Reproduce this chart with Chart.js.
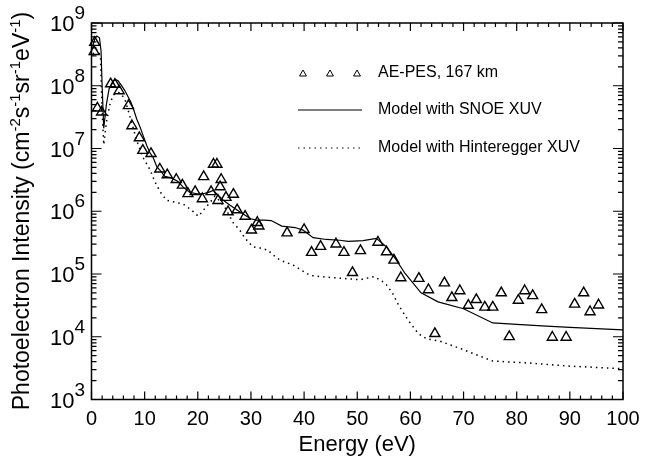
<!DOCTYPE html>
<html>
<head>
<meta charset="utf-8">
<script src="https://cdn.jsdelivr.net/npm/chart.js@4.4.1/dist/chart.umd.min.js"></script>
<style>
  html, body { margin: 0; padding: 0; background: #fff; }
</style>
</head>
<body>
<canvas id="chart" width="651" height="459"></canvas>
<script>
const FONT = '"Liberation Sans", Arial, Helvetica, sans-serif';

// AE-PES measurements (energy in eV, intensity)
const obsEnergy = [0.6, 0.5, 1.1, 1.9, 3.6, 4.4, 5.2, 6.95, 7.6, 9.0, 9.65, 11.2, 12.85, 14.25, 15.95, 17.1,
  18.15, 19.5, 20.85, 21.1, 22.95, 23.6, 22.5, 24.4, 24.2, 23.8, 25.3, 26.7, 25.7, 27.4, 28.9, 31.2, 31.5,
  30.1, 36.8, 40.0, 41.4, 43.1, 46.0, 47.5, 49.1, 50.6, 53.9, 55.5, 56.9, 58.2, 61.6, 63.4, 64.6, 66.4,
  67.8, 69.3, 70.9, 72.4, 74.0, 75.5, 77.1, 78.6, 80.3, 81.5, 83.0, 84.7, 86.7, 89.3, 90.9, 92.6, 93.8, 95.4];
const obsFlux = [4.9e8, 3.5e8, 4.4e7, 3.8e7, 1.07e8, 1.05e8, 8.3e7, 4.8e7, 2.3e7, 1.48e7, 9.3e6, 8.3e6, 4.7e6, 3.8e6, 3.2e6, 2.6e6,
  1.9e6, 2.05e6, 1.58e6, 3.55e6, 5.6e6, 5.6e6, 2.05e6, 3.2e6, 2.45e6, 1.48e6, 1.66e6, 1.86e6, 9.8e5, 1.05e6, 8.3e5, 6.6e5, 5.8e5,
  5.0e5, 4.5e5, 5.1e5, 2.2e5, 2.75e5, 3.0e5, 2.2e5, 1.05e5, 2.35e5, 3.2e5, 2.25e5, 1.66e5, 8.7e4, 8.5e4, 5.6e4, 1.12e4, 7.2e4,
  4.2e4, 5.4e4, 3.16e4, 3.9e4, 2.95e4, 2.95e4, 5.0e4, 1.0e4, 3.8e4, 5.4e4, 4.5e4, 2.7e4, 9.8e3, 9.8e3, 3.3e4, 5.0e4, 2.5e4, 3.2e4];

// model with SNOE XUV
const snoeEnergy = [0.2, 0.6, 1.0, 1.5, 1.8, 2.0, 2.3, 2.8, 3.3, 4.0, 4.5, 5.0, 5.6, 6.3, 6.9, 7.4, 8.0, 8.5, 9.1, 9.7,
  10.4, 11.0, 11.6, 12.3, 13.0, 13.8, 15.0, 16.2, 17.3, 18.5, 19.8, 21.0, 22.0, 22.9, 24.0, 24.8, 26.0, 27.6, 29.2,
  30.0, 31.0, 32.5, 33.8, 35.8, 38.3, 39.8, 41.7, 44.2, 46.7, 48.3, 51.1, 53.6, 55.5, 57.2, 59.0, 62.0, 65.2, 70.0,
  75.5, 80.0, 85.6, 90.0, 95.0, 100];
const snoeFlux = [4.2e8, 5.5e8, 6.2e8, 5.8e8, 3.55e8, 1.0e8, 2.1e7, 5.0e7, 8.9e7, 1.17e8, 1.26e8, 1.2e8, 1.02e8, 8.3e7, 6.6e7, 5.5e7, 4.0e7, 2.95e7, 2.24e7, 1.62e7,
  1.12e7, 8.5e6, 7.2e6, 5.1e6, 4.4e6, 3.6e6, 3.4e6, 3.0e6, 2.4e6, 2.0e6, 1.9e6, 1.9e6, 2.0e6, 2.15e6, 1.74e6, 1.5e6, 1.26e6, 1.02e6, 8.3e5,
  7.6e5, 7.2e5, 7.2e5, 7.1e5, 5.8e5, 5.5e5, 5.0e5, 3.8e5, 3.55e5, 3.45e5, 3.3e5, 3.4e5, 3.7e5, 2.7e5, 1.74e5, 1.02e5, 5.0e4, 3.6e4, 2.8e4,
  1.66e4, 1.58e4, 1.48e4, 1.41e4, 1.35e4, 1.29e4];

// model with Hinteregger XUV
const hintEnergy = [0.3, 0.8, 1.3, 1.7, 2.0, 2.3, 2.8, 3.5, 4.1, 5.0, 5.6, 6.3, 7.0, 7.6, 8.5, 9.6, 11.0, 11.9, 12.9, 14.1,
  16.0, 17.3, 18.8, 20.1, 21.3, 22.3, 23.2, 24.0, 25.1, 26.7, 27.9, 28.9, 30.4, 31.7, 33.2, 34.2, 35.5, 38.0, 41.1,
  44.2, 47.4, 50.5, 53.2, 55.3, 56.6, 57.8, 59.6, 61.5, 63.0, 65.6, 70.0, 75.5, 82.5, 90.0, 100];
const hintFlux = [3.2e8, 3.8e8, 3.7e8, 2.8e8, 4.0e7, 1.15e7, 2.6e7, 5.2e7, 7.1e7, 7.9e7, 7.4e7, 6.0e7, 3.8e7, 2.5e7, 1.35e7, 7.4e6, 4.6e6, 3.0e6, 2.05e6, 1.5e6,
  1.38e6, 1.29e6, 1.05e6, 8.3e5, 1.1e6, 1.38e6, 1.74e6, 1.5e6, 1.15e6, 6.5e5, 5.0e5, 3.7e5, 2.7e5, 2.6e5, 2.4e5, 2.0e5, 1.66e5, 1.38e5, 9.5e4,
  8.9e4, 8.5e4, 8.1e4, 9.1e4, 7.1e4, 5.0e4, 3.16e4, 1.82e4, 1.12e4, 9.3e3, 8.5e3, 6.2e3, 4.1e3, 3.8e3, 3.4e3, 3.1e3];

const yExponents = [3, 4, 5, 6, 7, 8, 9];
const legendLabels = ['AE-PES, 167 km', 'Model with SNOE XUV', 'Model with Hinteregger XUV'];

const toPoints = (xs, ys) => xs.map((v, i) => ({ x: v, y: ys[i] }));

function triangle(ctx, x, y, r) {
  ctx.beginPath();
  for (let k = 0; k < 3; k++) {
    const a = k * 2 * Math.PI / 3;
    const px = x + Math.sin(a) * r, py = y - Math.cos(a) * r;
    if (k === 0) ctx.moveTo(px, py); else ctx.lineTo(px, py);
  }
  ctx.closePath();
  ctx.stroke();
}

// box, inward ticks, y labels with exponents, y title and legend
const framePlugin = {
  id: 'frame',
  afterDraw(chart) {
    const { ctx, chartArea: a, scales: { x, y } } = chart;
    ctx.save();
    ctx.strokeStyle = '#000';
    ctx.fillStyle = '#000';

    ctx.lineWidth = 1.2;
    ctx.beginPath();
    for (let v = 0; v <= 100; v += 2) {
      const px = x.getPixelForValue(v);
      const len = v % 10 === 0 ? 8 : 4;
      ctx.moveTo(px, a.bottom); ctx.lineTo(px, a.bottom - len);
      ctx.moveTo(px, a.top); ctx.lineTo(px, a.top + len);
    }
    yExponents.forEach(n => {
      for (let m = 1; m <= 9; m++) {
        if (n === 9 && m > 1) break;
        const py = y.getPixelForValue(m * Math.pow(10, n));
        const len = m === 1 ? 10 : 5;
        ctx.moveTo(a.left, py); ctx.lineTo(a.left + len, py);
        ctx.moveTo(a.right, py); ctx.lineTo(a.right - len, py);
      }
    });
    ctx.stroke();

    ctx.lineWidth = 1.5;
    ctx.strokeRect(a.left, a.top, a.right - a.left, a.bottom - a.top);

    // y tick labels 10^n
    ctx.textBaseline = 'alphabetic';
    yExponents.forEach(n => {
      const py = y.getPixelForValue(Math.pow(10, n));
      ctx.font = '19px ' + FONT;
      const ew = ctx.measureText(String(n)).width;
      ctx.textAlign = 'left';
      ctx.fillText(String(n), a.left - 6.5 - ew, py - 4);
      ctx.font = '22px ' + FONT;
      ctx.textAlign = 'right';
      ctx.fillText('10', a.left - 6.5 - ew, py + 8);
    });

    // y axis title with superscripts
    const parts = [['Photoelectron Intensity (cm', 0], ['-2', 1], ['s', 0], ['-1', 1], ['sr', 0], ['-1', 1], ['eV', 0], ['-1', 1], [')', 0]];
    const mainFont = '23px ' + FONT, supFont = '15px ' + FONT;
    let total = 0;
    parts.forEach(p => { ctx.font = p[1] ? supFont : mainFont; total += ctx.measureText(p[0]).width; });
    ctx.save();
    ctx.translate(29, 211);
    ctx.rotate(-Math.PI / 2);
    ctx.textAlign = 'left';
    let cx = -total / 2;
    parts.forEach(p => {
      ctx.font = p[1] ? supFont : mainFont;
      ctx.fillText(p[0], cx, p[1] ? -9 : 0);
      cx += ctx.measureText(p[0]).width;
    });
    ctx.restore();

    // legend
    ctx.font = '16px ' + FONT;
    ctx.textAlign = 'left';
    ctx.textBaseline = 'middle';
    const lx = 298, tx = 378, rows = [73, 110, 148];
    ctx.lineWidth = 1;
    [303, 330, 357].forEach(px => triangle(ctx, px, rows[0] + 1, 4));
    ctx.lineWidth = 1.2;
    ctx.beginPath(); ctx.moveTo(lx, rows[1]); ctx.lineTo(lx + 64, rows[1]); ctx.stroke();
    ctx.setLineDash([1.5, 4]);
    ctx.beginPath(); ctx.moveTo(lx, rows[2]); ctx.lineTo(lx + 64, rows[2]); ctx.stroke();
    ctx.setLineDash([]);
    legendLabels.forEach((t, i) => ctx.fillText(t, tx, rows[i]));
    ctx.restore();
  }
};

new Chart(document.getElementById('chart'), {
  type: 'scatter',
  data: {
    datasets: [
      {
        label: legendLabels[0],
        data: toPoints(obsEnergy, obsFlux),
        pointStyle: 'triangle',
        pointRadius: 5.8,
        borderColor: '#000',
        backgroundColor: 'rgba(0,0,0,0)',
        borderWidth: 1.4,
        clip: false
      },
      {
        label: legendLabels[1],
        data: toPoints(snoeEnergy, snoeFlux),
        showLine: true,
        pointRadius: 0,
        borderColor: '#000',
        borderWidth: 1.2,
        tension: 0
      },
      {
        label: legendLabels[2],
        data: toPoints(hintEnergy, hintFlux),
        showLine: true,
        pointRadius: 0,
        borderColor: '#000',
        borderWidth: 1.5,
        borderDash: [1.5, 4],
        tension: 0
      }
    ]
  },
  options: {
    responsive: false,
    animation: false,
    layout: { padding: { top: 23, right: 28, left: 0, bottom: 0 } },
    plugins: { legend: { display: false }, tooltip: { enabled: false } },
    scales: {
      x: {
        type: 'linear',
        min: 0,
        max: 100,
        grid: { display: false, drawTicks: false },
        border: { display: false },
        ticks: { stepSize: 10, color: '#000', font: { family: FONT, size: 20 }, padding: 8, maxRotation: 0 },
        title: { display: true, text: 'Energy (eV)', color: '#000', font: { family: FONT, size: 22 }, padding: { top: 0, bottom: 1 } },
        afterFit: s => { s.height = 59.5; }
      },
      y: {
        type: 'logarithmic',
        min: 1e3,
        max: 1e9,
        grid: { display: false, drawTicks: false },
        border: { display: false },
        ticks: { display: false },
        afterFit: s => { s.width = 91.5; }
      }
    }
  },
  plugins: [framePlugin]
});
</script>
</body>
</html>
